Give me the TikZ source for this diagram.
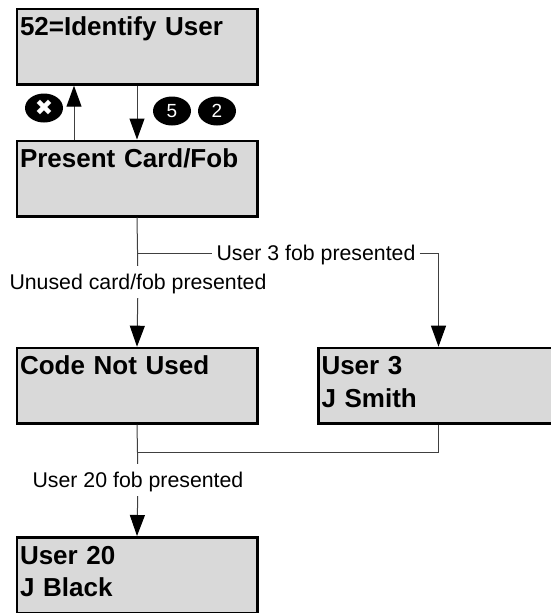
\documentclass[tikz,border=0pt]{standalone}
\usepackage{fontspec}
\setmainfont{Liberation Sans}
\newfontfamily\symfont{DejaVu Sans}
\usetikzlibrary{arrows.meta,shapes.geometric}
\tikzset{
    dispbox/.style={draw=black,line width=2.5pt,fill=black!15,anchor=north west,
	minimum width=240.5pt,text width=234pt,inner xsep=2pt,inner ysep=0pt,align=left,
	font=\fontsize{26}{32.4}\selectfont\bfseries,text height=27pt,text depth=48.5pt},
    fobtext/.style={font=\fontsize{21.3}{24}\selectfont,inner xsep=4pt,inner ysep=0pt,minimum height=32pt,
	text height=19pt,text depth=4pt},
    keypad/.style={ellipse,fill=black,text=white,inner sep=0pt,minimum width=38pt,minimum height=29pt,
	font=\fontsize{19}{20}\selectfont},
    flow/.style={draw=black!75,line width=1pt},
    flowto/.style={flow,-{Triangle[length=21pt,width=15pt,color=black]}}
}
\begin{document}
\begin{tikzpicture}[x=1pt,y=-1pt]
\clip (0,0) rectangle (551,613);
\node (identify) [dispbox] at (15.5,7.7) {52=Identify User};
\node (present) [dispbox] at (15.5,139.5) {Present Card/Fob};
\node (notused) [dispbox] at (15.5,346.7) {Code Not Used};
\node (smith) [dispbox] at (317,346.7) {User 3\\J Smith};
\node (black) [dispbox] at (15.5,536) {User 20\\J Black};

\node (cancelkey) [keypad] at (44,108) {\symfont\fontsize{22}{22}\selectfont\char"2716};
\node (fivekey) [keypad] at (172,111) {5};
\node (twokey) [keypad] at (217,111) {2};

\node (unused) [fobtext] at (138,282) {Unused card/fob presented};
\node (fob3) [fobtext] at (316,253) {User 3 fob presented};
\node (fob20) [fobtext] at (138,480) {User 20 fob presented};
\coordinate (forka) at (present.south |- fob3);
\coordinate (forkb) at (0,452);

\draw [flowto] ([xshift=-63pt]present.north) -- ([xshift=-63pt]identify.south);
\draw [flowto] (identify.south) -- (present.north);
\draw [flow] (present.south) -- (unused);
\draw [flowto] (unused) -- (notused.north);
\draw [flow] (forka) -- (fob3);
\draw [flowto] (fob3) -| (smith.north);
\draw [flow] (notused.south) -- (fob20);
\draw [flowto] (fob20) -- (black.north);
\draw [flow] (smith.south) |- (notused.south |- forkb);
\end{tikzpicture}
\end{document}
